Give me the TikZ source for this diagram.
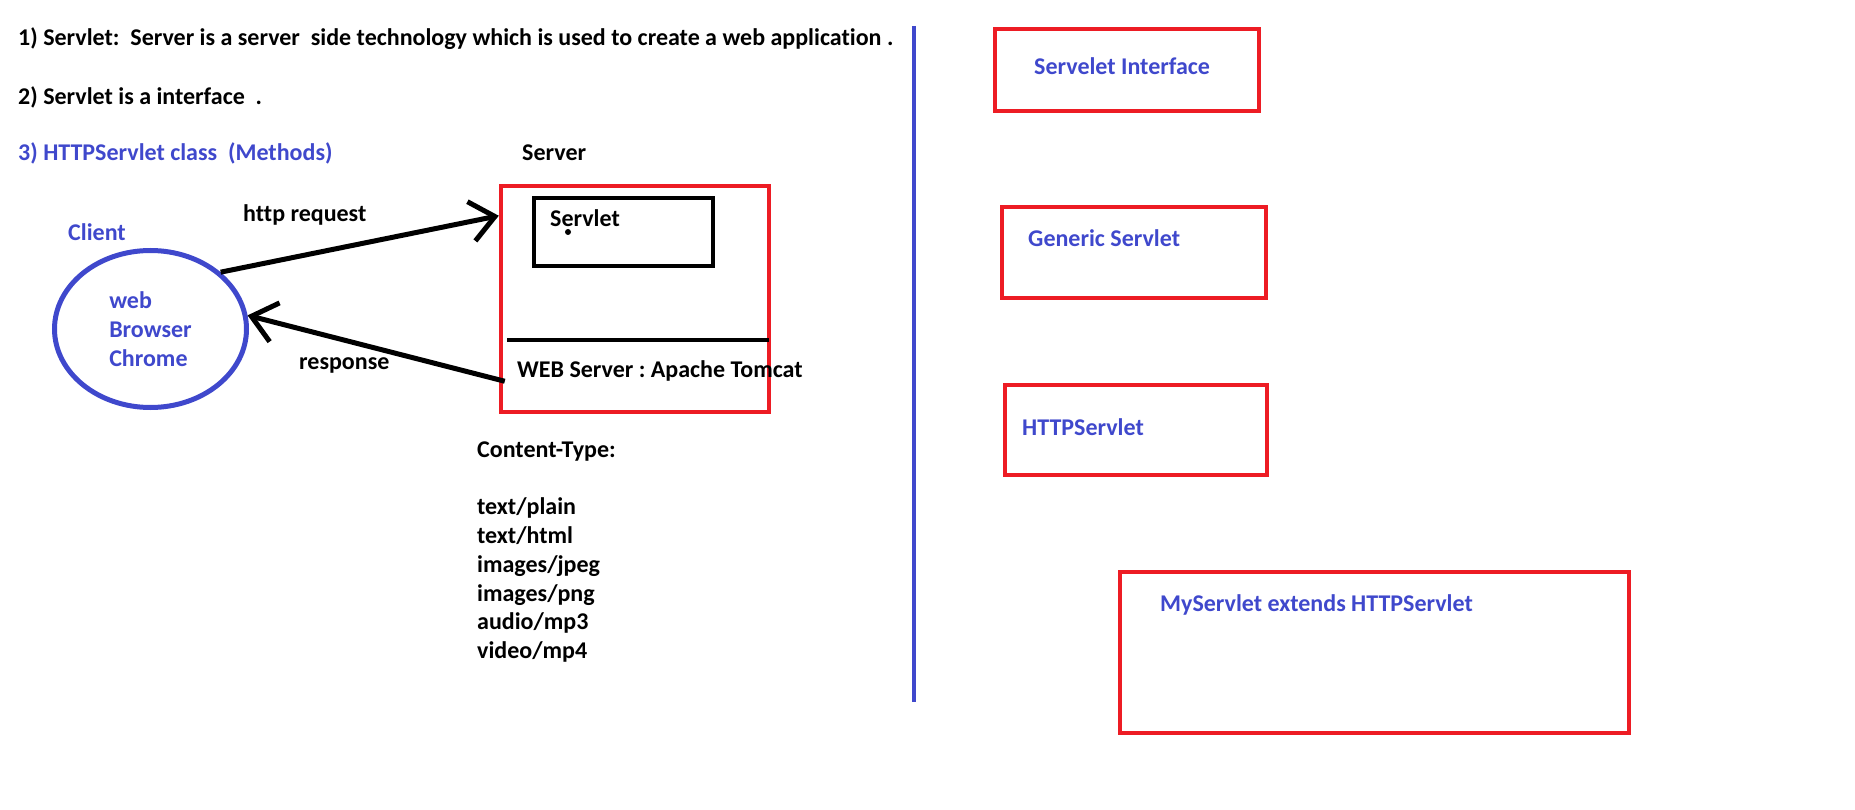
\documentclass[tikz,border=0pt]{standalone}
\usepackage{fontspec}
\setmainfont{Carlito}[Ligatures={NoCommon,NoRare}]
\usetikzlibrary{shapes.geometric,arrows.meta}
\definecolor{paintblue}{RGB}{63,72,204}
\definecolor{paintred}{RGB}{237,28,36}
\frenchspacing

\begin{document}
\begin{tikzpicture}[x=1pt,y=-1pt,
		txt/.style={anchor=base west,inner sep=0pt,font=\fontsize{24}{28.8}\selectfont\bfseries},
		bluetxt/.style={txt,text=paintblue},
		redbox/.style={draw=paintred,line width=4.5pt,inner sep=0pt},
		blackbox/.style={draw=black,line width=4pt,inner sep=0pt},
		msg/.style={line width=5pt,-{Straight Barb[length=24pt,width=40pt]}}]
	\useasboundingbox (0,0) rectangle (1855,810);

	\node[txt] (def1) at (18,46) {1) Servlet:\ \ Server is a server\ \ side technology which is used to create a web application\ .};
	\node[txt] (def2) at (18,105) {2) Servlet is a interface\ \ .};
	\node[bluetxt] (def3) at (18,161) {3) HTTPServlet class\ \ (Methods)};

	\node[bluetxt] (clientlbl) at (68,241) {Client};
	\node[ellipse,draw=paintblue,line width=5pt,minimum width=192pt,minimum height=157pt,inner sep=0pt,
		text=paintblue,font=\fontsize{24}{29}\selectfont\bfseries,align=left] (browser) at (150.5,329) {web\\Browser\\Chrome};

	\node[txt] (serverlbl) at (522,161) {Server};
	\node[redbox,minimum width=268pt,minimum height=226pt] (server) at (635,299) {};
	\node[blackbox,minimum width=179pt,minimum height=68pt] (servletbox) at (623.5,232) {};
	\node[txt] (servletlbl) at (550,227) {Servlet};
	\fill (568,232) circle (3);
	\coordinate (sepL) at (507,340);
	\coordinate (sepR) at (769,340);
	\draw[line width=4pt] (sepL) -- (sepR);
	\node[txt] (tomcat) at (517,377) {WEB Server : Apache Tomcat};

	\draw[msg] (browser.39) -- ([yshift=-32pt]server.north west);
	\draw[msg] ([shift={(6pt,33pt)}]server.south west) -- (browser.8);
	\node[txt] (reqlbl) at (243,222) {http request};
	\node[txt] (resplbl) at (299,369) {response};

	\node[txt,anchor=west,align=left] (ctypes) at (477,552) {Content-Type:\\[28.8pt]text/plain\\text/html\\images/jpeg\\images/png\\audio/mp3\\video/mp4};

	\coordinate (divtop) at (914,26);
	\coordinate (divbot) at (914,702);
	\draw[paintblue,line width=4pt] (divtop) -- (divbot);

	\node[redbox,minimum width=264pt,minimum height=82pt] (ifacebox) at (1127,70) {};
	\node[bluetxt] (ifacelbl) at (1034,75) {Servelet Interface};
	\node[redbox,minimum width=264pt,minimum height=91pt] (genbox) at (1134,252.5) {};
	\node[bluetxt] (genlbl) at (1028,247) {Generic Servlet};
	\node[redbox,minimum width=262pt,minimum height=90pt] (httpbox) at (1136,430) {};
	\node[bluetxt] (httplbl) at (1022,435) {HTTPServlet};
	\node[redbox,minimum width=509pt,minimum height=161pt] (mybox) at (1374.5,652.5) {};
	\node[bluetxt] (mylbl) at (1160,611) {MyServlet extends HTTPServlet};
\end{tikzpicture}
\end{document}
